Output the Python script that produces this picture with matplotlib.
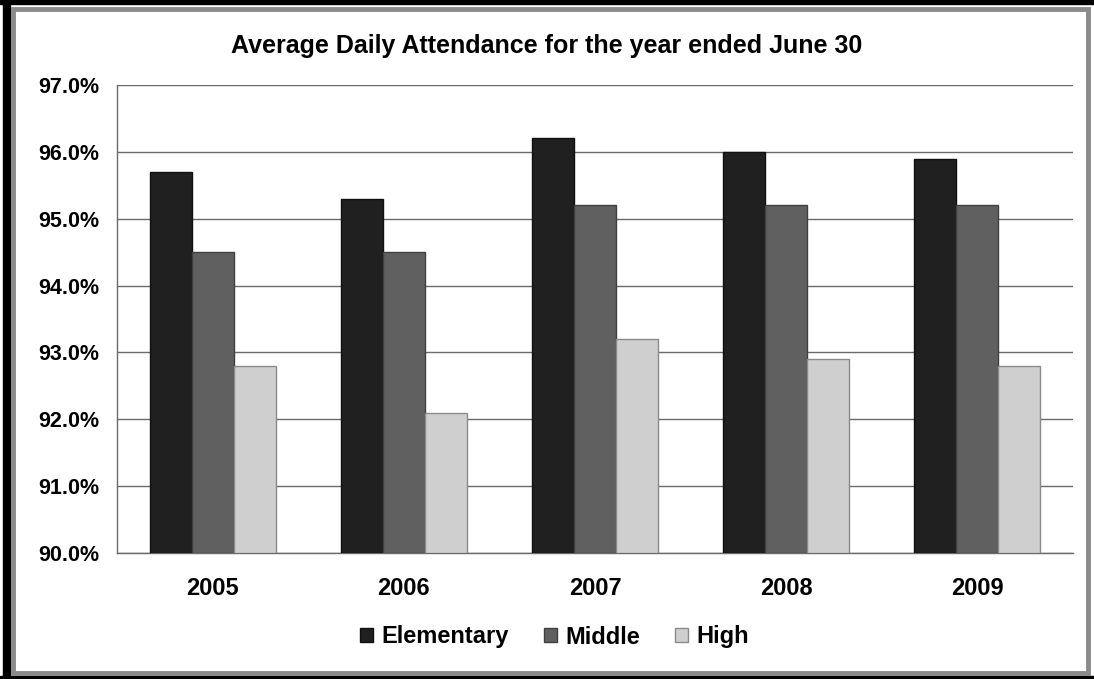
import matplotlib
matplotlib.use("Agg")
import matplotlib.pyplot as plt
import numpy as np
from matplotlib.patches import Rectangle

years = ["2005", "2006", "2007", "2008", "2009"]
elementary = [95.7, 95.3, 96.2, 96.0, 95.9]
middle = [94.5, 94.5, 95.2, 95.2, 95.2]
high = [92.8, 92.1, 93.2, 92.9, 92.8]
series_names = ["Elementary", "Middle", "High"]
y_ticks = [90, 91, 92, 93, 94, 95, 96, 97]

plt.rcParams['font.family'] = ['Liberation Sans', 'DejaVu Sans']
plt.rcParams['font.weight'] = 'bold'

W, H = 1094, 679
fig = plt.figure(figsize=(W / 100, H / 100), dpi=100)
fig.patch.set_facecolor('white')

# frame (scanned border look)
fig.add_artist(Rectangle((3 / W, 0), 7 / W, 1, transform=fig.transFigure, color='black', zorder=0))
fig.add_artist(Rectangle((0, 1 - 4 / H), 1, 4 / H, transform=fig.transFigure, color='black', zorder=0))
fig.add_artist(Rectangle((0, 0), 1, 3 / H, transform=fig.transFigure, color='black', zorder=0))
fig.add_artist(Rectangle((12.5 / W, 6 / H), (W - 12.5 - 6) / W, (H - 6 - 9) / H,
                         transform=fig.transFigure, fill=False, edgecolor='#8a8a8a',
                         linewidth=3.5, zorder=0))

ax = fig.add_axes([117 / W, 1 - 553 / H, (1073 - 117) / W, (553 - 85) / H])
x = np.arange(len(years))
bw = 0.22
colors = ['#202020', '#606060', '#cfcfcf']
edges = ['#101010', '#404040', '#8a8a8a']
for i, (vals, name) in enumerate(zip([elementary, middle, high], series_names)):
    ax.bar(x + (i - 1) * bw, np.array(vals) - 90, bw, bottom=90, color=colors[i],
           edgecolor=edges[i], linewidth=1, label=name, zorder=3)

ax.set_xlim(-0.5, len(years) - 0.5)
ax.set_ylim(90, 97)
ax.set_yticks(y_ticks)
ax.set_yticklabels([f"{v:.1f}%" for v in y_ticks], fontsize=15.5, fontweight='bold')
ax.set_xticks(x)
ax.set_xticklabels(years, fontsize=17, fontweight='bold')
ax.tick_params(axis='both', length=0)
ax.tick_params(axis='y', pad=13)
ax.tick_params(axis='x', pad=17)
ax.grid(axis='y', color='#6a6a6a', linewidth=1, zorder=1)
for s in ['top', 'right']:
    ax.spines[s].set_visible(False)
for s in ['left', 'bottom']:
    ax.spines[s].set_color('#6a6a6a')
    ax.spines[s].set_linewidth(1)

fig.text(0.5, 1 - 46 / H, "Average Daily Attendance for the year ended June 30",
         ha='center', va='center', fontsize=18, fontweight='bold')

fig.legend(loc='center', bbox_to_anchor=(0.507, 1 - 637 / H), ncol=3, frameon=False,
           handlelength=0.55, handleheight=0.55, handletextpad=0.35,
           columnspacing=1.5, prop={'weight': 'bold', 'size': 17})

fig.savefig("out.png", dpi=100)
